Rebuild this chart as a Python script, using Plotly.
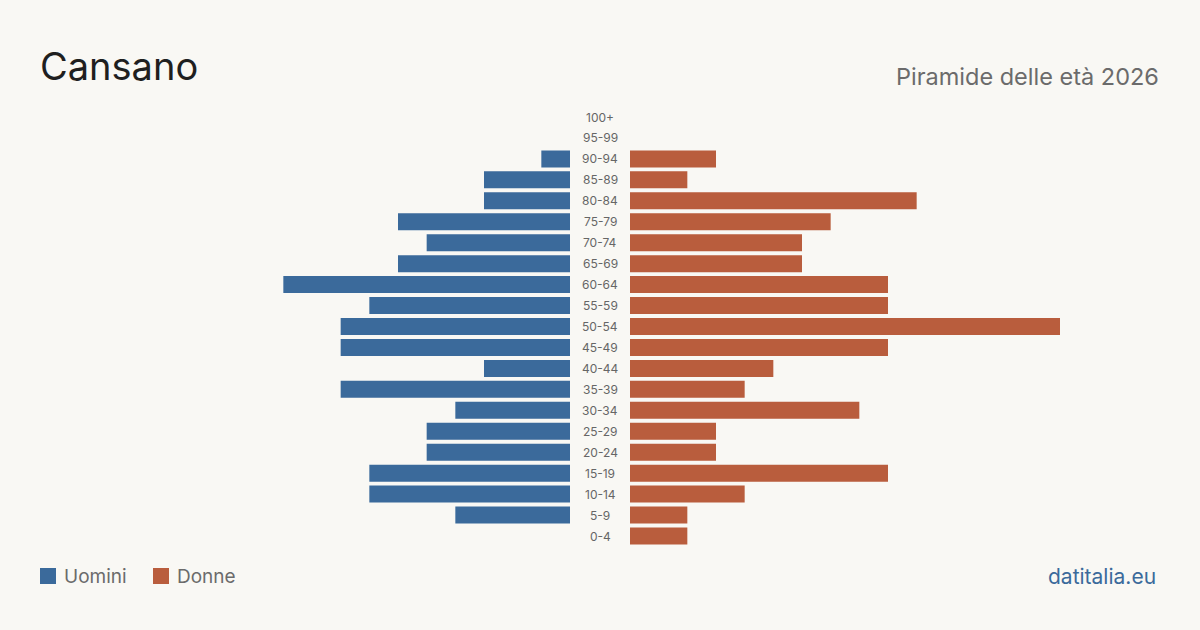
import plotly.graph_objects as go

age_groups = ["0-4", "5-9", "10-14", "15-19", "20-24", "25-29", "30-34", "35-39",
              "40-44", "45-49", "50-54", "55-59", "60-64", "65-69", "70-74", "75-79",
              "80-84", "85-89", "90-94", "95-99", "100+"]
men = [0, 4, 7, 7, 5, 5, 4, 8, 3, 8, 8, 7, 10, 6, 5, 6, 3, 3, 1, 0, 0]
women = [2, 2, 4, 9, 3, 3, 8, 4, 5, 9, 15, 9, 9, 6, 6, 7, 10, 2, 3, 0, 0]

title = "Cansano"
subtitle = "Piramide delle età 2026"
source = "datitalia.eu"
legend_labels = ["Uomini", "Donne"]

BLUE = "#3b6a9b"
ORANGE = "#b95d3d"
BG = "#f9f8f4"
FONT = "Inter"

W, H = 1200, 630
xmax = max(max(men), max(women))

fig = go.Figure()
fig.add_trace(go.Bar(y=age_groups, x=men, orientation="h", marker_color=BLUE,
                     marker_line_width=0,
                     xaxis="x", yaxis="y", showlegend=False, hoverinfo="x+y"))
fig.add_trace(go.Bar(y=age_groups, x=women, orientation="h", marker_color=ORANGE,
                     marker_line_width=0,
                     xaxis="x2", yaxis="y", showlegend=False, hoverinfo="x+y"))

# age labels in the center
for ag in age_groups:
    fig.add_annotation(x=600 / W, xref="paper", y=ag, yref="y", text=ag,
                       showarrow=False, font=dict(family=FONT, size=12, color="#666666"),
                       xanchor="center", yanchor="middle")

y_top = 117 - 10.475
y_bot = 536 + 10.475

fig.update_layout(
    width=W, height=H,
    margin=dict(l=0, r=0, t=0, b=0),
    paper_bgcolor=BG, plot_bgcolor=BG,
    bargap=0.19,
    xaxis=dict(domain=[140 / W, 570 / W], range=[xmax, 0], visible=False, fixedrange=True),
    xaxis2=dict(domain=[630 / W, 1060 / W], range=[0, xmax], visible=False, fixedrange=True),
    yaxis=dict(domain=[(H - y_bot) / H, (H - y_top) / H], type="category",
               categoryorder="array", categoryarray=age_groups,
               range=[-0.5, len(age_groups) - 0.5], visible=False, fixedrange=True),
    font=dict(family=FONT),
)

# title & subtitle
fig.add_annotation(x=38 / W, y=1 - 66 / H, xref="paper", yref="paper", text=title,
                   showarrow=False, xanchor="left", yanchor="middle",
                   font=dict(family=FONT, size=38, color="#1f1f1f"))
fig.add_annotation(x=1161 / W, y=1 - 76 / H, xref="paper", yref="paper", text=subtitle,
                   showarrow=False, xanchor="right", yanchor="middle",
                   font=dict(family=FONT, size=23.5, color="#6b6b6b"))

# legend
leg_y = 576
fig.add_shape(type="rect", xref="paper", yref="paper",
              x0=40 / W, x1=56 / W, y0=1 - (leg_y + 8) / H, y1=1 - (leg_y - 8) / H,
              fillcolor=BLUE, line_width=0)
fig.add_annotation(x=62 / W, y=1 - leg_y / H, xref="paper", yref="paper", text=legend_labels[0],
                   showarrow=False, xanchor="left", yanchor="middle",
                   font=dict(family=FONT, size=19, color="#6b6b6b"))
fig.add_shape(type="rect", xref="paper", yref="paper",
              x0=153 / W, x1=169 / W, y0=1 - (leg_y + 8) / H, y1=1 - (leg_y - 8) / H,
              fillcolor=ORANGE, line_width=0)
fig.add_annotation(x=175 / W, y=1 - leg_y / H, xref="paper", yref="paper", text=legend_labels[1],
                   showarrow=False, xanchor="left", yanchor="middle",
                   font=dict(family=FONT, size=19, color="#6b6b6b"))

fig.add_annotation(x=1158 / W, y=1 - leg_y / H, xref="paper", yref="paper", text=source,
                   showarrow=False, xanchor="right", yanchor="middle",
                   font=dict(family=FONT, size=21, color=BLUE))

fig.write_html("out.html", config={"displayModeBar": False})
